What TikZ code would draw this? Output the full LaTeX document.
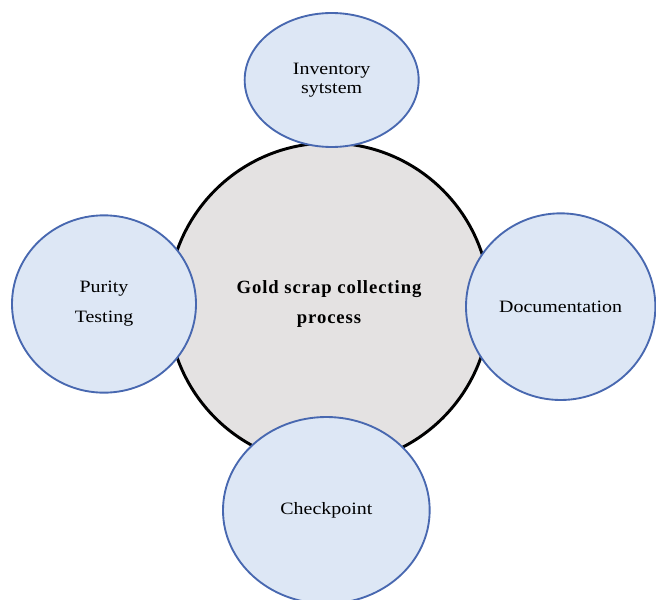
\documentclass[tikz,border=0pt]{standalone}
\usepackage{fontspec}
\setmainfont{Liberation Serif}
\newfontfamily\widefont[FakeStretch=1.15]{Liberation Serif}
\newfontfamily\hubfont[LetterSpace=5]{Liberation Serif}
\usepackage{xcolor}
\usepackage{tikz}
\usetikzlibrary{positioning,shapes.geometric}
\definecolor{satfill}{RGB}{221,231,245}
\definecolor{satline}{RGB}{72,104,176}
\definecolor{hubfill}{RGB}{228,226,226}

\begin{document}
\begin{tikzpicture}[
hub/.style={circle,draw=black,line width=2.2pt,fill=hubfill,minimum size=241.5pt,inner sep=0pt,outer sep=0pt,align=center,font=\hubfont\bfseries\fontsize{14}{23}\selectfont},
sat/.style={ellipse,draw=satline,line width=1.4pt,fill=satfill,inner sep=0pt,outer sep=0pt,align=center,font=\widefont\fontsize{13}{14}\selectfont}]
\useasboundingbox (0,0) rectangle (492pt,-449.25pt);
\node[hub] (gold) at (246.75pt,-228pt) {Gold scrap collecting\\process};
\node[sat,minimum width=130.5pt,minimum height=100.5pt,above=-3pt of gold,xshift=2pt] (inv) {Inventory\\sytstem};
\node[sat,minimum width=138pt,minimum height=133pt,left=-21pt of gold,font=\widefont\fontsize{13}{22.5}\selectfont] (purity) {Purity\\Testing};
\node[sat,minimum width=142pt,minimum height=140pt,right=-18pt of gold,yshift=-2pt] (doc) {Documentation};
\node[sat,minimum width=155pt,minimum height=140pt,below=-36pt of gold,xshift=-2pt] (check) {Checkpoint};
\end{tikzpicture}
\end{document}
